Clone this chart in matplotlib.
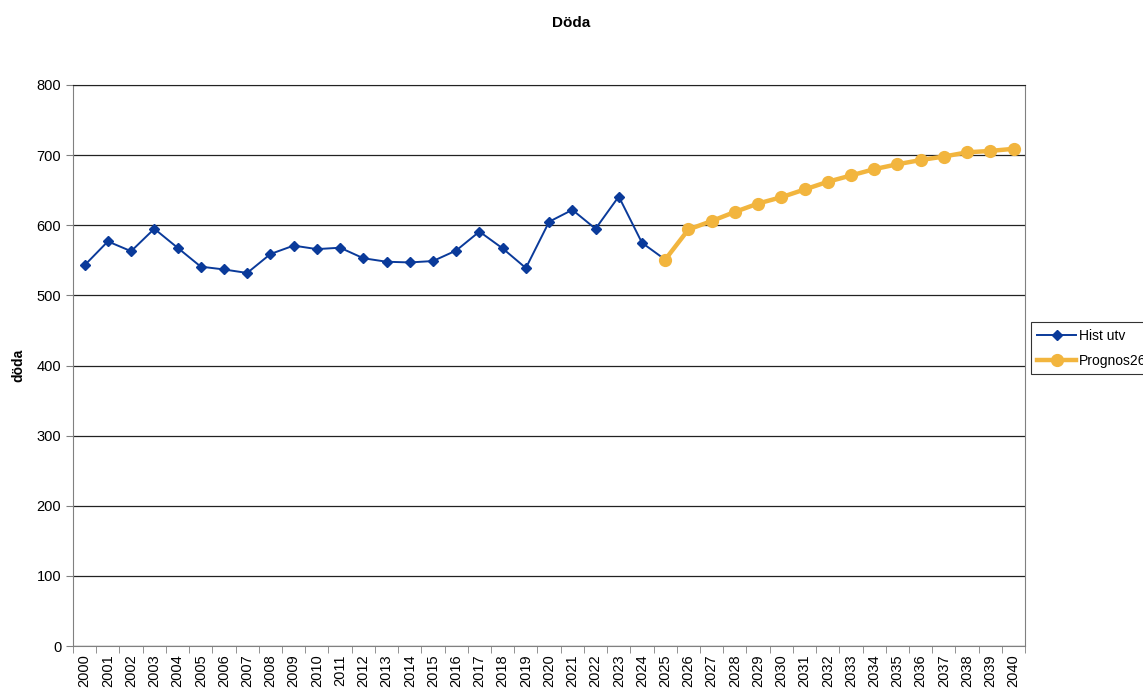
import matplotlib.pyplot as plt

plt.rcParams['font.family'] = ['Liberation Sans', 'DejaVu Sans']

# Historiska värden 2000-2025
hist_ar = list(range(2000, 2026))
hist_doda = [543, 577, 563, 595, 568, 541, 537, 532, 559, 571,
             566, 568, 553, 548, 547, 549, 564, 591, 567, 539,
             605, 622, 595, 641, 575, 551]

# Prognos 2025-2040
prog_ar = list(range(2025, 2041))
prog_doda = [551, 594, 606, 619, 631, 640, 651, 662, 671, 680,
             687, 693, 698, 704, 706, 709]

ar_etiketter = [str(a) for a in range(2000, 2041)]


def rita():
    fig = plt.figure(figsize=(11.43, 6.91), dpi=100)
    ax = fig.add_axes([0.0639, 0.065, 0.833, 0.812])

    ax.set_axisbelow(True)
    ax.grid(axis='y', color='#222222', linewidth=0.9)

    x_hist = [a - 2000 for a in hist_ar]
    x_prog = [a - 2000 for a in prog_ar]
    ax.plot(x_hist, hist_doda, color='#0A3A9A', linewidth=1.4, marker='D',
            markersize=5, label='Hist utv', zorder=3)
    ax.plot(x_prog, prog_doda, color='#F2B53E', linewidth=3.2, marker='o',
            markersize=8.5, label='Prognos26', zorder=4)

    ax.set_ylim(0, 800)
    ax.set_yticks(range(0, 801, 100))
    ax.set_xlim(-0.5, 40.5)
    ax.set_xticks(range(len(ar_etiketter)))
    ax.set_xticklabels(ar_etiketter, rotation=90)
    ax.set_xticks([i - 0.5 for i in range(len(ar_etiketter) + 1)], minor=True)
    ax.tick_params(axis='x', which='major', length=0, pad=6, labelsize=10.5)
    ax.tick_params(axis='x', which='minor', length=5, color='#808080')
    ax.tick_params(axis='y', length=5, color='#808080', labelsize=10.5)

    for s in ax.spines.values():
        s.set_color('#808080')
    ax.spines['top'].set_color('#222222')

    ax.set_ylabel('döda', fontweight='bold', fontsize=10, labelpad=8)
    fig.text(0.5, 0.967, 'Döda', ha='center', va='center',
             fontweight='bold', fontsize=11)

    # legenden är avskuren av bildkanten, precis som i originalet
    leg = ax.legend(loc='center left', bbox_to_anchor=(1.006, 0.531),
                    frameon=True, fancybox=False, fontsize=10,
                    handlelength=2.8, handletextpad=0.2, borderpad=0.45,
                    labelspacing=0.8, borderaxespad=0)
    leg.get_frame().set_edgecolor('#000000')
    leg.get_frame().set_linewidth(0.8)

    fig.savefig('out.png', dpi=100)
    plt.close(fig)


if __name__ == '__main__':
    rita()
